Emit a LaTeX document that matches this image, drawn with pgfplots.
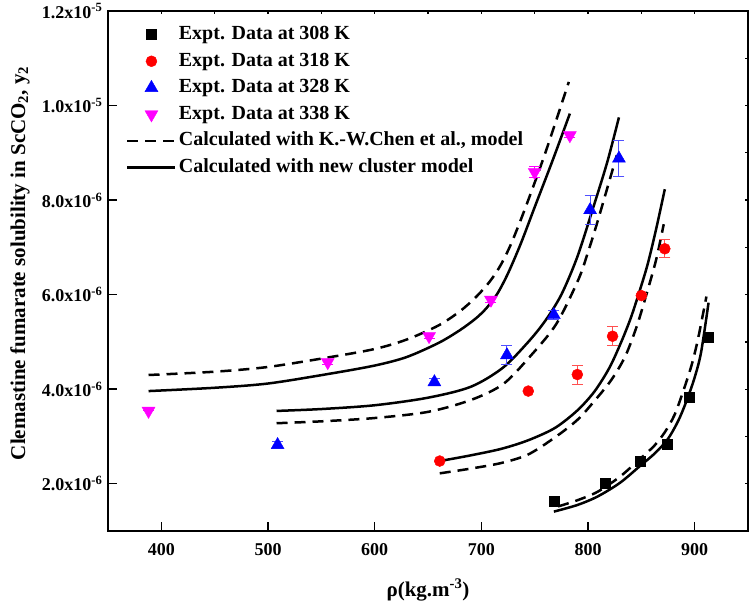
\documentclass[border=0pt]{standalone}
\usepackage{pgfplots}
\pgfplotsset{compat=1.18}
\usepackage{fontspec}
\setmainfont{Liberation Serif}
\definecolor{mag}{RGB}{255,0,255}
\definecolor{ebblue}{RGB}{80,80,255}
\definecolor{ebred}{RGB}{255,80,80}
\begin{document}
\begin{tikzpicture}
\useasboundingbox (-108pt,-75pt) rectangle (643pt,531pt);
\begin{axis}[
  scale only axis, width=640pt, height=520pt,
  xmin=350, xmax=950, ymin=1e-6, ymax=1.2e-5,
  xtick={400,500,...,900},
  xticklabels={400,500,600,700,800,900},
  ytick={2e-6,4e-6,6e-6,8e-6,1e-5,1.2e-5},
  yticklabels={2.0x10\textsuperscript{-6},4.0x10\textsuperscript{-6},6.0x10\textsuperscript{-6},8.0x10\textsuperscript{-6},1.0x10\textsuperscript{-5},1.2x10\textsuperscript{-5}},
  scaled y ticks=false,
  xtick pos=left, ytick pos=left,
  tick align=inside, major tick length=9pt,
  axis line style={line width=1.6pt},
  every tick/.style={line width=1.4pt, black},
  ticklabel style={font=\fontsize{18}{20}\selectfont\bfseries},
  xticklabel style={yshift=-9pt},
  yticklabel style={xshift=-2pt},
  xlabel={ρ(kg.m\textsuperscript{-3})},
  ylabel={Clemastine fumarate solubility in ScCO\textsubscript{2}, y\textsubscript{2}},
  label style={font=\fontsize{21}{24}\selectfont\bfseries},
  xlabel style={at={(axis description cs:0.5,-0.1135)}, anchor=center},
  ylabel style={at={(axis description cs:-0.1375,0.515)}, anchor=center, rotate=0},
  legend image code/.code={\draw[mark repeat=2,mark phase=2,#1] plot coordinates {(0pt,0pt) (24pt,0pt) (48pt,0pt)};},
  legend style={at={(axis description cs:0,1)}, anchor=north west, xshift=18pt, yshift=-11pt,
    draw=none, fill=none, inner sep=0pt, row sep=1.7pt,
    font=\fontsize{20}{22}\selectfont\bfseries,
    nodes={inner sep=2.2pt, text height=15pt, text depth=5.5pt}},
  legend cell align=left,
  error bars/error bar style={line width=0.9pt},
  error bars/error mark options={rotate=90, mark size=5.5pt, line width=0.9pt},
]
% ---- model curves (drawn first) ----
\addplot[forget plot, black, line width=2.5pt, dash pattern=on 11pt off 7pt, smooth] coordinates {
(388,4.30e-6)(450,4.37e-6)(500,4.47e-6)(556,4.67e-6)(600,4.85e-6)(630,5.05e-6)(660,5.35e-6)(680,5.65e-6)(695,5.95e-6)(708,6.28e-6)(718,6.62e-6)(728,7.08e-6)(741,7.82e-6)(760,9.00e-6)(782,10.5e-6)};
\addplot[forget plot, black, line width=2.5pt, smooth] coordinates {
(388,3.96e-6)(450,4.03e-6)(500,4.12e-6)(556,4.32e-6)(600,4.50e-6)(630,4.68e-6)(660,4.98e-6)(680,5.25e-6)(695,5.50e-6)(705,5.72e-6)(715,6.02e-6)(725,6.45e-6)(737,7.08e-6)(750,7.85e-6)(767,8.85e-6)(783,9.83e-6)};
\addplot[forget plot, black, line width=2.5pt, dash pattern=on 11pt off 7pt, smooth] coordinates {
(508,3.28e-6)(550,3.32e-6)(600,3.39e-6)(650,3.52e-6)(690,3.77e-6)(720,4.10e-6)(744,4.65e-6)(770,5.37e-6)(791,6.32e-6)(800,6.90e-6)(809,7.55e-6)(827,8.95e-6)};
\addplot[forget plot, black, line width=2.5pt, smooth] coordinates {
(508,3.54e-6)(550,3.58e-6)(600,3.66e-6)(650,3.82e-6)(690,4.05e-6)(720,4.45e-6)(744,5.00e-6)(760,5.45e-6)(775,6.00e-6)(790,6.80e-6)(805,7.85e-6)(818,8.80e-6)(829,9.75e-6)};
\addplot[forget plot, black, line width=2.5pt, dash pattern=on 11pt off 7pt, smooth] coordinates {
(661,2.22e-6)(690,2.32e-6)(719,2.44e-6)(744,2.62e-6)(769,2.98e-6)(790,3.35e-6)(806,3.75e-6)(822,4.20e-6)(835,4.70e-6)(846,5.35e-6)(856,6.10e-6)(864,6.75e-6)(871,7.49e-6)};
\addplot[forget plot, black, line width=2.5pt, smooth] coordinates {
(661,2.48e-6)(690,2.60e-6)(719,2.74e-6)(744,2.92e-6)(769,3.18e-6)(790,3.55e-6)(806,3.95e-6)(820,4.45e-6)(831,4.99e-6)(840,5.50e-6)(848,6.05e-6)(856,6.65e-6)(864,7.40e-6)(872,8.23e-6)};
\addplot[forget plot, black, line width=2.5pt, dash pattern=on 11pt off 7pt, smooth] coordinates {
(772,1.52e-6)(790,1.65e-6)(809,1.83e-6)(830,2.15e-6)(849,2.53e-6)(862,2.80e-6)(872,3.09e-6)(881,3.45e-6)(889,3.94e-6)(897,4.50e-6)(903,5.05e-6)(911,5.96e-6)};
\addplot[forget plot, black, line width=2.5pt, smooth] coordinates {
(768,1.41e-6)(790,1.55e-6)(809,1.73e-6)(830,2.02e-6)(849,2.38e-6)(863,2.65e-6)(875,2.95e-6)(885,3.35e-6)(893,3.79e-6)(900,4.25e-6)(906,4.78e-6)(913,5.83e-6)};
% ---- experimental data ----
\addplot[only marks, mark=square*, mark size=5pt, black] coordinates {
(768,1.62e-6)(816,2.02e-6)(849,2.48e-6)(874,2.84e-6)(895,3.83e-6)(913,5.09e-6)};
\addlegendentry{Expt. Data at 308 K}
\addplot[only marks, mark=*, mark size=5.5pt, red,
  error bars/.cd, y dir=both, y explicit, error bar style={color=ebred}] coordinates {
(661,2.48e-6) +- (0,0)
(744,3.96e-6) +- (0,0)
(790,4.31e-6) +- (0,0.20e-6)
(823,5.12e-6) +- (0,0.20e-6)
(850,5.98e-6) +- (0,0.05e-6)
(872,6.97e-6) +- (0,0.19e-6)};
\addlegendentry{Expt. Data at 318 K}
\addplot[only marks, mark=triangle*, mark size=7.5pt, blue,
  error bars/.cd, y dir=both, y explicit, error bar style={color=ebblue}] coordinates {
(509,2.82e-6) +- (0,0.08e-6)
(656,4.15e-6) +- (0,0.08e-6)
(724,4.72e-6) +- (0,0.20e-6)
(768,5.57e-6) +- (0,0.10e-6)
(802,7.79e-6) +- (0,0.30e-6)
(829,8.88e-6) +- (0,0.39e-6)};
\addlegendentry{Expt. Data at 328 K}
\addplot[only marks, mark=triangle*, mark size=7.5pt, mag, mark options={rotate=180},
  error bars/.cd, y dir=both, y explicit, error bar style={color=mag}] coordinates {
(388,3.54e-6) +- (0,0)
(556,4.57e-6) +- (0,0.05e-6)
(651,5.12e-6) +- (0,0.05e-6)
(709,5.89e-6) +- (0,0.05e-6)
(750,8.59e-6) +- (0,0.12e-6)
(783,9.37e-6) +- (0,0.05e-6)};
\addlegendentry{Expt. Data at 338 K}
\addlegendimage{black, line width=2.5pt, dash pattern=on 11pt off 7pt}
\addlegendentry{Calculated with K.-W.Chen et al., model}
\addlegendimage{black, line width=2.5pt}
\addlegendentry{Calculated with new cluster model}
\end{axis}
\begin{axis}[
  scale only axis, width=640pt, height=520pt,
  xmin=350, xmax=950, ymin=1e-6, ymax=1.2e-5,
  axis line style={draw=none},
  xtick={350,400,...,950}, ytick={1e-6,2e-6,3e-6,4e-6,5e-6,6e-6,7e-6,8e-6,9e-6,1e-5,1.1e-5,1.2e-5},
  xticklabels={}, yticklabels={}, scaled y ticks=false,
  xtick pos=right, ytick pos=right,
  tick align=inside, major tick length=3.5pt,
  every tick/.style={line width=1.2pt, black},
]
\end{axis}
\end{tikzpicture}
\end{document}
